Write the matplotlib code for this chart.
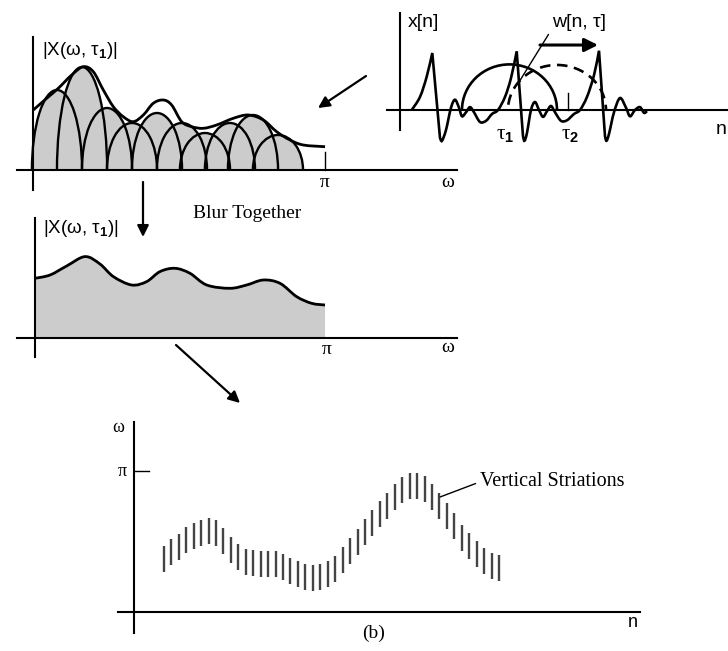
import numpy as np
import matplotlib
matplotlib.use('Agg')
import matplotlib.pyplot as plt
from matplotlib.path import Path
from matplotlib.patches import PathPatch, Ellipse, Rectangle

plt.rcParams['font.family'] = ['Liberation Sans', 'DejaVu Sans']
plt.rcParams['mathtext.fontset'] = 'custom'
plt.rcParams['mathtext.rm'] = 'Liberation Sans'
plt.rcParams['mathtext.bf'] = 'Liberation Sans:bold'
plt.rcParams['mathtext.it'] = 'Liberation Sans:italic'

W, H = 728, 651
SERIF = ['Liberation Serif', 'DejaVu Serif']
GRAY = '#cccccc'

# --- (1) short-time spectrum, one lobe per harmonic (omega in rad)
lobe_center = [0.255, 0.525, 0.794, 1.063, 1.332, 1.601, 1.849, 2.118, 2.366, 2.635]
lobe_height = [0.80, 1.03, 0.62, 0.47, 0.57, 0.47, 0.37, 0.47, 0.55, 0.35]
lobe_halfwidth = 0.27
env_w = [0.0, 0.144, 0.269, 0.413, 0.539, 0.646, 0.754, 0.862, 0.969, 1.077, 1.185, 1.292,
         1.400, 1.490, 1.598, 1.706, 1.831, 1.975, 2.154, 2.316, 2.477, 2.621, 2.765, 2.908, 3.142]
env_mag = [0.60, 0.717, 0.817, 0.95, 1.033, 0.983, 0.80, 0.633, 0.533, 0.483, 0.55, 0.667,
           0.70, 0.65, 0.483, 0.433, 0.417, 0.45, 0.517, 0.55, 0.50, 0.383, 0.30, 0.25, 0.233]

# --- (2) blurred spectrum
blur_w = [0.0, 0.163, 0.343, 0.542, 0.704, 0.849, 1.047, 1.210, 1.354, 1.517, 1.679, 1.860,
          2.112, 2.293, 2.473, 2.654, 2.834, 2.997, 3.142]
blur_mag = [0.60, 0.633, 0.723, 0.817, 0.743, 0.617, 0.533, 0.567, 0.667, 0.70, 0.65, 0.533,
            0.50, 0.533, 0.583, 0.55, 0.417, 0.35, 0.333]

# --- (3) time signal x[n] (pieces between the sharp pulse peaks)
ramp_n = [1.17, 2.00, 2.67, 3.23]
ramp_x = [0.0, 0.23, 0.585, 1.0]
seg1_n = [4.0, 4.2, 4.6, 5.1, 5.5, 5.9, 6.2, 6.6, 7.0, 7.4, 8.0, 8.6, 9.2, 9.8, 10.5, 11.1, 11.67]
seg1_x = [-0.49, -0.54, -0.35, 0.04, 0.18, 0.04, -0.11, -0.04, 0.05, -0.04, -0.21, -0.19,
          -0.07, 0.0, 0.23, 0.56, 1.03]
seg2_n = [12.3, 12.45, 12.7, 13.1, 13.5, 13.9, 14.3, 14.7, 15.1, 15.5, 16.1, 16.7, 17.4, 18.0,
          18.7, 19.4, 19.9]
seg2_x = [-0.46, -0.54, -0.40, 0.0, 0.14, 0.0, -0.12, -0.02, 0.07, -0.04, -0.19, -0.18, -0.07,
          0.0, 0.23, 0.61, 1.04]
seg3_n = [20.5, 20.65, 20.9, 21.4, 22.0, 22.6, 23.0, 23.5, 24.0, 24.4, 24.7]
seg3_x = [-0.46, -0.54, -0.42, -0.04, 0.21, 0.04, -0.11, 0.0, 0.05, -0.05, -0.02]
win_center = [10.95, 15.7]   # solid window at tau1, dashed one after the shift
win_halfwidth = [4.75, 4.9]
win_height = [0.80, 0.79]

# --- (4) spectrogram striations (omega / pi at the middle of each stroke)
stri_n = list(range(4, 50))
stri_w = [0.377, 0.424, 0.463, 0.509, 0.538, 0.562, 0.576, 0.560, 0.502, 0.438, 0.392, 0.358,
          0.346, 0.343, 0.343, 0.342, 0.321, 0.292, 0.268, 0.250, 0.243, 0.247, 0.271, 0.307,
          0.371, 0.431, 0.495, 0.569, 0.631, 0.693, 0.755, 0.818, 0.863, 0.897, 0.897, 0.871,
          0.818, 0.753, 0.682, 0.608, 0.526, 0.466, 0.408, 0.360, 0.324, 0.310]


def smooth(xs, ys, start=True):
    # catmull-rom through the read points, drawn as bezier pieces
    p = np.column_stack([xs, ys]).astype(float)
    q = np.vstack([p[0], p, p[-1]])
    verts = [p[0]]
    codes = [Path.MOVETO if start else Path.LINETO]
    for i in range(1, len(q) - 2):
        p0, p1, p2, p3 = q[i - 1], q[i], q[i + 1], q[i + 2]
        verts += [p1 + (p2 - p0) / 6, p2 - (p3 - p1) / 6, p2]
        codes += [Path.CURVE4] * 3
    return verts, codes


def panel(box, origin, sx, sy):
    x0, y0, x1, y1 = box
    ax = fig.add_axes([x0 / W, 1 - y1 / H, (x1 - x0) / W, (y1 - y0) / H])
    ax.set_xlim((x0 - origin[0]) / sx, (x1 - origin[0]) / sx)
    ax.set_ylim((origin[1] - y1) / sy, (origin[1] - y0) / sy)
    ax.axis('off')
    return ax


fig = plt.figure(figsize=(W / 100, H / 100), dpi=100)
fig.patch.set_facecolor('white')

# ---------- panel 1: harmonic lobes + envelope
ax1 = panel((0, 25, 470, 200), (33.3, 170), 92.85, 100)
clip1 = Rectangle((-1, 0), 10, 5, transform=ax1.transData)
for c, h in zip(lobe_center, lobe_height):
    e = Ellipse((c, 0), 2 * lobe_halfwidth, 2 * h, facecolor=GRAY, edgecolor='none')
    ax1.add_patch(e)
    e.set_clip_path(clip1)
for c, h in zip(lobe_center, lobe_height):
    e = Ellipse((c, 0), 2 * lobe_halfwidth, 2 * h, facecolor='none', edgecolor='k', lw=1.7)
    ax1.add_patch(e)
    e.set_clip_path(clip1)
v, cd = smooth(env_w, env_mag)
ax1.add_patch(PathPatch(Path(v, cd), fill=False, lw=2.0, ec='k'))
ax1.plot([0, 0], [-0.20, 1.333], color='k', lw=1.5)
ax1.plot([-0.179, 4.563], [0, 0], color='k', lw=1.5)
ax1.plot([np.pi, np.pi], [0, 0.183], color='k', lw=1.0)
ax1.text(0.09, 1.20, r'|X(ω, τ$_\mathbf{1}$)|', fontsize=13.5, va='center', ha='left')
ax1.text(np.pi, -0.12, 'π', family=SERIF, fontsize=14, ha='center', va='center')
ax1.text(4.466, -0.12, 'ω', family=SERIF, fontsize=14, ha='center', va='center')

# ---------- panel 2: x[n] with the sliding window
ax2 = panel((380, 0, 728, 150), (400, 110), 10, 57)
verts, codes = smooth(ramp_n, ramp_x)
for sn, sxv in [(seg1_n, seg1_x), (seg2_n, seg2_x), (seg3_n, seg3_x)]:
    v, cd = smooth(sn, sxv, start=False)
    verts += v
    codes += cd
ax2.add_patch(PathPatch(Path(verts, codes), fill=False, lw=1.9, ec='k'))
clip2 = Rectangle((-5, 0), 60, 5, transform=ax2.transData)
for c, hw, h, ls in zip(win_center, win_halfwidth, win_height, ['-', (0, (4, 2.5))]):
    e = Ellipse((c, 0), 2 * hw, 2 * h, facecolor='none', edgecolor='k', lw=1.9, linestyle=ls)
    ax2.add_patch(e)
    e.set_clip_path(clip2)
ax2.plot([0, 0], [-0.35, 1.70], color='k', lw=1.5)
ax2.plot([-1.3, 33.5], [0, 0], color='k', lw=1.5)
ax2.plot([16.83, 16.83], [0, 0.30], color='k', lw=1.0)
ax2.text(0.8, 1.53, 'x[n]', fontsize=14, ha='left', va='center')
ax2.annotate('w[n, τ]', xy=(11.9, 0.49), xytext=(15.2, 1.53), fontsize=14, ha='left',
             va='center', arrowprops=dict(arrowstyle='-', lw=1.0, color='k',
                                          relpos=(0, 0.15), shrinkA=1, shrinkB=0))
ax2.annotate('', xy=(19.8, 1.14), xytext=(14.0, 1.14),
             arrowprops=dict(arrowstyle='-|>', lw=2.2, color='k', mutation_scale=20,
                             shrinkA=0, shrinkB=0))
ax2.text(10.5, -0.44, r'τ$_\mathbf{1}$', family=SERIF, fontsize=15, ha='center', va='center')
ax2.text(17.0, -0.44, r'τ$_\mathbf{2}$', family=SERIF, fontsize=15, ha='center', va='center')
ax2.text(32.7, -0.35, 'n', fontsize=14, ha='right', va='center')

# ---------- panel 3: blurred spectrum
ax3 = panel((0, 195, 470, 365), (35, 338.3), 92.3, 100)
v, cd = smooth(blur_w, blur_mag)
fv = v + [(blur_w[-1], 0), (blur_w[0], 0), (blur_w[0], blur_mag[0])]
fc = cd + [Path.LINETO, Path.LINETO, Path.CLOSEPOLY]
ax3.add_patch(PathPatch(Path(fv, fc), fc=GRAY, ec='none'))
ax3.add_patch(PathPatch(Path(v, cd), fill=False, lw=2.0, ec='k'))
ax3.plot([0, 0], [-0.187, 1.20], color='k', lw=1.5)
ax3.plot([-0.195, 4.57], [0, 0], color='k', lw=1.5)
ax3.text(0.087, 1.10, r'|X(ω, τ$_\mathbf{1}$)|', fontsize=13.5, va='center', ha='left')
ax3.text(2.297, 1.253, 'Blur Together', family=SERIF, fontsize=14, ha='center', va='center')
ax3.text(np.pi + 0.02, -0.107, 'π', family=SERIF, fontsize=14, ha='center', va='center')
ax3.text(4.47, -0.097, 'ω', family=SERIF, fontsize=14, ha='center', va='center')

# ---------- panel 4: narrowband spectrogram
ax4 = panel((100, 415, 660, 651), (134, 612), 7.45, 141 / np.pi)
stri_mid = np.pi * np.array(stri_w)
half_len = 0.29
ax4.vlines(stri_n, stri_mid - half_len, stri_mid + half_len, color='#444444', lw=1.7)
ax4.plot([0, 0], [-0.149 * np.pi, 1.348 * np.pi], color='k', lw=1.5)
ax4.plot([-2.15, 67.9], [0, 0], color='k', lw=1.5)
ax4.plot([0, 2.0], [np.pi, np.pi], color='k', lw=1.0)
ax4.text(-2.15, 1.305 * np.pi, 'ω', family=SERIF, fontsize=13, ha='center', va='center')
ax4.text(-1.6, np.pi, 'π', family=SERIF, fontsize=13, ha='center', va='center')
ax4.text(67.0, -0.078 * np.pi, 'n', fontsize=13, ha='center', va='center')
ax4.text(32.1, -0.149 * np.pi, '(b)', family=SERIF, fontsize=14, ha='center', va='center')
ax4.annotate('Vertical Striations', xy=(41.1, 0.816 * np.pi), xytext=(46.4, 0.922 * np.pi),
             family=SERIF, fontsize=14.5, ha='left', va='center',
             arrowprops=dict(arrowstyle='-', lw=1.0, color='k', relpos=(0, 0.5),
                             shrinkA=1, shrinkB=0))

# ---------- arrows between the panels (figure pixels, y down)
ov = fig.add_axes([0, 0, 1, 1])
ov.set_xlim(0, W)
ov.set_ylim(H, 0)
ov.axis('off')
arrow = dict(arrowstyle='-|>', lw=1.6, color='k', mutation_scale=17, shrinkA=0, shrinkB=0)
ov.annotate('', xy=(143, 237), xytext=(143, 182), arrowprops=arrow)
ov.annotate('', xy=(318, 108), xytext=(366, 76), arrowprops=arrow)
ov.annotate('', xy=(240, 403), xytext=(176, 345), arrowprops=arrow)

fig.savefig('out.png', dpi=100)
